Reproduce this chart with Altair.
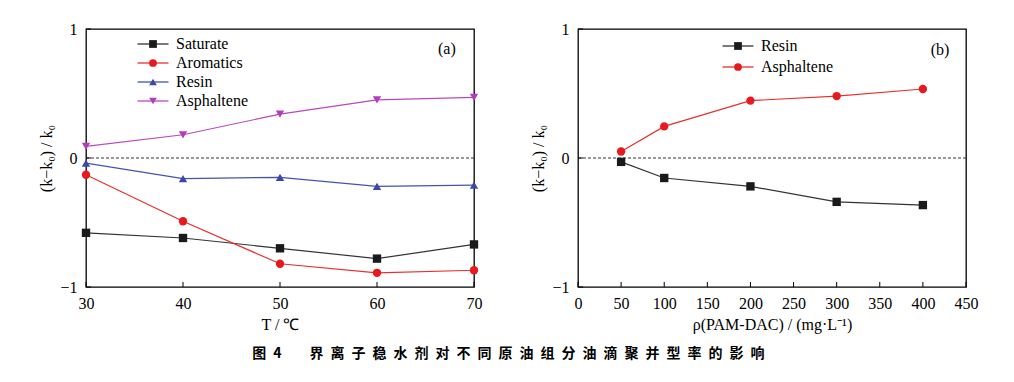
import altair as alt
import pandas as pd

# ---------------- data ----------------
temps = [30, 40, 50, 60, 70]
saturate = [-0.58, -0.62, -0.70, -0.78, -0.67]
aromatics = [-0.13, -0.49, -0.82, -0.89, -0.87]
resin_a = [-0.04, -0.16, -0.15, -0.22, -0.21]
asphaltene_a = [0.09, 0.18, 0.34, 0.45, 0.47]

conc = [50, 100, 200, 300, 400]
resin_b = [-0.03, -0.155, -0.22, -0.34, -0.365]
asphaltene_b = [0.05, 0.245, 0.445, 0.48, 0.535]

series_a = ["Saturate", "Aromatics", "Resin", "Asphaltene"]
colors_a = ["#1a1a1a", "#e8191e", "#3a48a8", "#b23cba"]
line_colors_a = ["#333333", "#e8302e", "#4553b0", "#b848c0"]
shapes_a = ["square", "circle", "triangle-up", "triangle-down"]

series_b = ["Resin", "Asphaltene"]
colors_b = ["#1a1a1a", "#e8191e"]
line_colors_b = ["#333333", "#e8302e"]
shapes_b = ["square", "circle"]

xticks_a = [30, 40, 50, 60, 70]
xticks_b = [0, 50, 100, 150, 200, 250, 300, 350, 400, 450]
yticks = [-1, 0, 1]

caption_chars = list("界离子稳水剂对不同原油组分油滴聚并型率的影响")
caption = "图\u20024\u2003\u2003" + "\u2002".join(caption_chars)

W, H = 388, 258
SERIF = "Liberation Serif"
LINE_PATH = "M-4,0H4"   # legend line symbol (scaled by symbolSize)


def long_df(xvals, names, cols):
    rows = []
    for name, vals in zip(names, cols):
        for xv, yv in zip(xvals, vals):
            rows.append({"x": xv, "y": yv, "series": name + "_l",
                         "marker": name})
    return pd.DataFrame(rows)


def panel(df, xdomain, xticks, xtitle, names, colors, line_colors, shapes,
          tag, tagx, tagy, leg_x, leg_y, row_pad, label_size):
    xs = alt.Scale(domain=xdomain, nice=False, zero=False)
    ys = alt.Scale(domain=[-1, 1], nice=False)
    common = dict(ticks=False, domain=False, grid=False,
                  labelFont=SERIF, labelFontSize=16, labelColor="black",
                  titleFont=SERIF, titleFontSize=16, titleColor="black",
                  titleFontWeight="normal", labelOverlap=False)
    xaxis = alt.Axis(values=xticks, title=xtitle, labelPadding=8,
                     titlePadding=5, labelFlush=False,
                     labelExpr="'' + datum.value", **common)
    yaxis = alt.Axis(values=yticks, title="(k−k₀) / k₀", labelPadding=9,
                     titlePadding=5,
                     labelExpr="datum.value < 0 ? '−' + abs(datum.value) : '' + datum.value",
                     **common)
    X = alt.X("x:Q", scale=xs, axis=xaxis)
    Y = alt.Y("y:Q", scale=ys, axis=yaxis)

    stroke_leg = alt.Legend(orient="none", legendX=leg_x, legendY=leg_y,
                            title=None, symbolType=LINE_PATH, symbolSize=60,
                            symbolStrokeWidth=1.3, labelOpacity=0,
                            labelExpr="' '",
                            labelFont=SERIF, labelFontSize=label_size,
                            rowPadding=row_pad, padding=0)
    point_leg = alt.Legend(orient="none", legendX=leg_x,
                           legendY=leg_y, title=None, symbolSize=60,
                           symbolStrokeWidth=0, labelOffset=15,
                           labelFont=SERIF, labelFontSize=label_size,
                           labelColor="black", rowPadding=row_pad, padding=0)

    lines = alt.Chart(df).mark_line(strokeWidth=1.2).encode(
        x=X, y=Y,
        stroke=alt.Stroke("series:N",
                          scale=alt.Scale(domain=[n + "_l" for n in names],
                                          range=line_colors),
                          legend=stroke_leg),
        order=alt.Order("x:Q"),
    )
    points = alt.Chart(df).mark_point(filled=True, size=70, opacity=1).encode(
        x=X, y=Y,
        color=alt.Color("marker:N",
                        scale=alt.Scale(domain=names, range=colors),
                        legend=point_leg),
        shape=alt.Shape("marker:N",
                        scale=alt.Scale(domain=names, range=shapes),
                        legend=point_leg),
    )
    zero = alt.Chart(pd.DataFrame({"y": [0]})).mark_rule(
        strokeDash=[3, 2], strokeWidth=1, color="#333333").encode(y=Y)
    xt = alt.Chart(pd.DataFrame({"x": xticks})).mark_rule(
        color="black", strokeWidth=1).encode(
        x=X, y=alt.value(H), y2=alt.value(H - 5))
    yt = alt.Chart(pd.DataFrame({"y": yticks})).mark_rule(
        color="black", strokeWidth=1).encode(
        y=Y, x=alt.value(0), x2=alt.value(5))
    label = alt.Chart(pd.DataFrame({"x": [tagx], "y": [tagy], "t": [tag]})
                      ).mark_text(font=SERIF, fontSize=16,
                                  color="black").encode(
        x=X, y=Y, text="t:N")
    return alt.layer(lines, zero, xt, yt, points, label).properties(
        width=W, height=H)


df_a = long_df(temps, series_a, [saturate, aromatics, resin_a, asphaltene_a])
df_b = long_df(conc, series_b, [resin_b, asphaltene_b])

pa = panel(df_a, [30, 70], xticks_a, "T / ℃", series_a, colors_a,
           line_colors_a, shapes_a, "(a)", 67.2, 0.845,
           59, 7, 3, 16)
pb = panel(df_b, [0, 450], xticks_b, "ρ(PAM-DAC) / (mg·L⁻¹)", series_b,
           colors_b, line_colors_b, shapes_b, "(b)", 419.8, 0.84,
           152, 9, 5, 16)

chart = alt.hconcat(pa, pb, spacing=47).resolve_scale(
    color="independent", shape="independent", stroke="independent",
    x="independent", y="independent",
).resolve_legend(
    color="independent", shape="independent", stroke="independent"
).properties(
    title=alt.TitleParams(caption, orient="bottom", anchor="middle",
                          font="Noto Sans CJK SC", fontSize=14,
                          fontWeight="bold", color="black", offset=14),
    padding={"left": 30, "top": 12, "right": 5, "bottom": 5},
).configure_view(stroke="black", strokeWidth=1.3).configure_axis(
    labelFont=SERIF, titleFont=SERIF
)

chart.save("out.html", embed_options={"renderer": "svg", "actions": False})
